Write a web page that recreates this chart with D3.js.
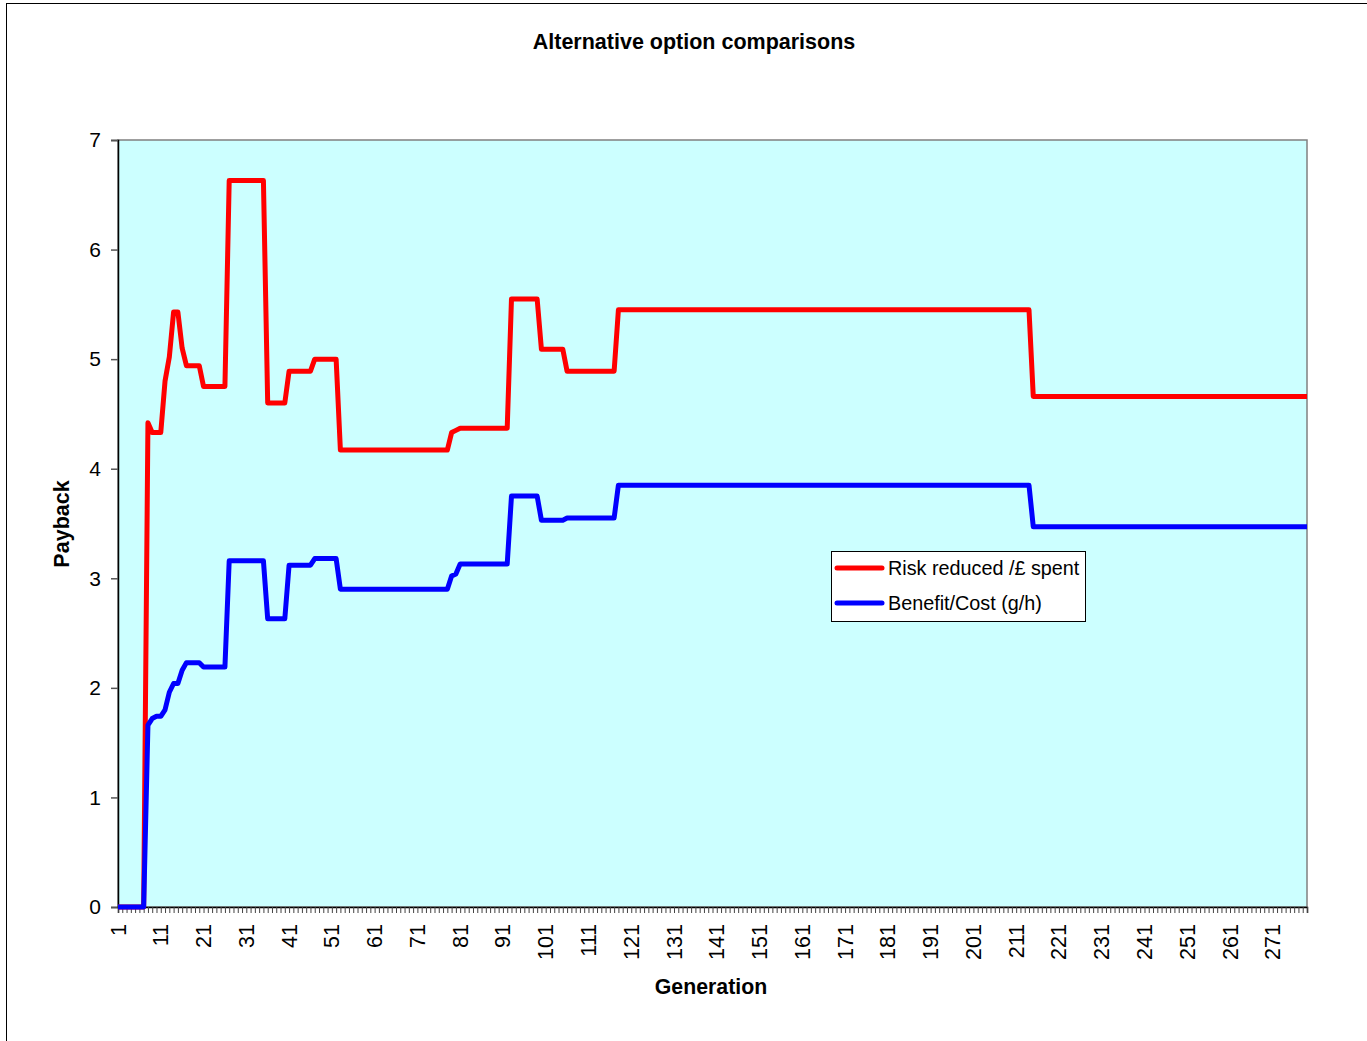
<!DOCTYPE html>
<html>
<head>
<meta charset="utf-8">
<script src="https://cdn.jsdelivr.net/npm/d3@7/dist/d3.min.js"></script>
<style>
  html, body { margin: 0; padding: 0; background: #ffffff; }
  svg { display: block; }
  text { font-family: "Liberation Sans", Arial, sans-serif; fill: #000; }
</style>
</head>
<body>
<svg id="chart" width="1367" height="1041"></svg>
<script>
// ---- data ----
const title = "Alternative option comparisons";
const xTitle = "Generation";
const yTitle = "Payback";
const generations = d3.range(1, 280); // categories 1..279
const xTickLabels = [1, 11, 21, 31, 41, 51, 61, 71, 81, 91, 101, 111, 121, 131, 141, 151, 161, 171, 181, 191, 201, 211, 221, 231, 241, 251, 261, 271];
const yTicks = [0, 1, 2, 3, 4, 5, 6, 7];
const seriesNames = ["Risk reduced /£ spent", "Benefit/Cost (g/h)"];

const riskReduced = [
  0, 0, 0, 0, 0, 0, 0, 4.42, 4.33, 4.33,
  4.33, 4.8, 5.02, 5.43, 5.43, 5.1, 4.94, 4.94, 4.94, 4.94,
  4.75, 4.75, 4.75, 4.75, 4.75, 4.75, 6.63, 6.63, 6.63, 6.63,
  6.63, 6.63, 6.63, 6.63, 6.63, 4.6, 4.6, 4.6, 4.6, 4.6,
  4.89, 4.89, 4.89, 4.89, 4.89, 4.89, 5.0, 5.0, 5.0, 5.0,
  5.0, 5.0, 4.17, 4.17, 4.17, 4.17, 4.17, 4.17, 4.17, 4.17,
  4.17, 4.17, 4.17, 4.17, 4.17, 4.17, 4.17, 4.17, 4.17, 4.17,
  4.17, 4.17, 4.17, 4.17, 4.17, 4.17, 4.17, 4.17, 4.33, 4.35,
  4.37, 4.37, 4.37, 4.37, 4.37, 4.37, 4.37, 4.37, 4.37, 4.37,
  4.37, 4.37, 5.55, 5.55, 5.55, 5.55, 5.55, 5.55, 5.55, 5.09,
  5.09, 5.09, 5.09, 5.09, 5.09, 4.89, 4.89, 4.89, 4.89, 4.89,
  4.89, 4.89, 4.89, 4.89, 4.89, 4.89, 4.89, 5.45, 5.45, 5.45,
  5.45, 5.45, 5.45, 5.45, 5.45, 5.45, 5.45, 5.45, 5.45, 5.45,
  5.45, 5.45, 5.45, 5.45, 5.45, 5.45, 5.45, 5.45, 5.45, 5.45,
  5.45, 5.45, 5.45, 5.45, 5.45, 5.45, 5.45, 5.45, 5.45, 5.45,
  5.45, 5.45, 5.45, 5.45, 5.45, 5.45, 5.45, 5.45, 5.45, 5.45,
  5.45, 5.45, 5.45, 5.45, 5.45, 5.45, 5.45, 5.45, 5.45, 5.45,
  5.45, 5.45, 5.45, 5.45, 5.45, 5.45, 5.45, 5.45, 5.45, 5.45,
  5.45, 5.45, 5.45, 5.45, 5.45, 5.45, 5.45, 5.45, 5.45, 5.45,
  5.45, 5.45, 5.45, 5.45, 5.45, 5.45, 5.45, 5.45, 5.45, 5.45,
  5.45, 5.45, 5.45, 5.45, 5.45, 5.45, 5.45, 5.45, 5.45, 5.45,
  5.45, 5.45, 5.45, 5.45, 4.66, 4.66, 4.66, 4.66, 4.66, 4.66,
  4.66, 4.66, 4.66, 4.66, 4.66, 4.66, 4.66, 4.66, 4.66, 4.66,
  4.66, 4.66, 4.66, 4.66, 4.66, 4.66, 4.66, 4.66, 4.66, 4.66,
  4.66, 4.66, 4.66, 4.66, 4.66, 4.66, 4.66, 4.66, 4.66, 4.66,
  4.66, 4.66, 4.66, 4.66, 4.66, 4.66, 4.66, 4.66, 4.66, 4.66,
  4.66, 4.66, 4.66, 4.66, 4.66, 4.66, 4.66, 4.66, 4.66, 4.66,
  4.66, 4.66, 4.66, 4.66, 4.66, 4.66, 4.66, 4.66, 4.66
];

const benefitCost = [
  0, 0, 0, 0, 0, 0, 0, 1.66, 1.72, 1.74,
  1.74, 1.8, 1.96, 2.04, 2.04, 2.16, 2.23, 2.23, 2.23, 2.23,
  2.19, 2.19, 2.19, 2.19, 2.19, 2.19, 3.16, 3.16, 3.16, 3.16,
  3.16, 3.16, 3.16, 3.16, 3.16, 2.63, 2.63, 2.63, 2.63, 2.63,
  3.12, 3.12, 3.12, 3.12, 3.12, 3.12, 3.18, 3.18, 3.18, 3.18,
  3.18, 3.18, 2.9, 2.9, 2.9, 2.9, 2.9, 2.9, 2.9, 2.9,
  2.9, 2.9, 2.9, 2.9, 2.9, 2.9, 2.9, 2.9, 2.9, 2.9,
  2.9, 2.9, 2.9, 2.9, 2.9, 2.9, 2.9, 2.9, 3.02, 3.04,
  3.13, 3.13, 3.13, 3.13, 3.13, 3.13, 3.13, 3.13, 3.13, 3.13,
  3.13, 3.13, 3.75, 3.75, 3.75, 3.75, 3.75, 3.75, 3.75, 3.53,
  3.53, 3.53, 3.53, 3.53, 3.53, 3.55, 3.55, 3.55, 3.55, 3.55,
  3.55, 3.55, 3.55, 3.55, 3.55, 3.55, 3.55, 3.85, 3.85, 3.85,
  3.85, 3.85, 3.85, 3.85, 3.85, 3.85, 3.85, 3.85, 3.85, 3.85,
  3.85, 3.85, 3.85, 3.85, 3.85, 3.85, 3.85, 3.85, 3.85, 3.85,
  3.85, 3.85, 3.85, 3.85, 3.85, 3.85, 3.85, 3.85, 3.85, 3.85,
  3.85, 3.85, 3.85, 3.85, 3.85, 3.85, 3.85, 3.85, 3.85, 3.85,
  3.85, 3.85, 3.85, 3.85, 3.85, 3.85, 3.85, 3.85, 3.85, 3.85,
  3.85, 3.85, 3.85, 3.85, 3.85, 3.85, 3.85, 3.85, 3.85, 3.85,
  3.85, 3.85, 3.85, 3.85, 3.85, 3.85, 3.85, 3.85, 3.85, 3.85,
  3.85, 3.85, 3.85, 3.85, 3.85, 3.85, 3.85, 3.85, 3.85, 3.85,
  3.85, 3.85, 3.85, 3.85, 3.85, 3.85, 3.85, 3.85, 3.85, 3.85,
  3.85, 3.85, 3.85, 3.85, 3.47, 3.47, 3.47, 3.47, 3.47, 3.47,
  3.47, 3.47, 3.47, 3.47, 3.47, 3.47, 3.47, 3.47, 3.47, 3.47,
  3.47, 3.47, 3.47, 3.47, 3.47, 3.47, 3.47, 3.47, 3.47, 3.47,
  3.47, 3.47, 3.47, 3.47, 3.47, 3.47, 3.47, 3.47, 3.47, 3.47,
  3.47, 3.47, 3.47, 3.47, 3.47, 3.47, 3.47, 3.47, 3.47, 3.47,
  3.47, 3.47, 3.47, 3.47, 3.47, 3.47, 3.47, 3.47, 3.47, 3.47,
  3.47, 3.47, 3.47, 3.47, 3.47, 3.47, 3.47, 3.47, 3.47
];

const seriesColors = ["#ff0000", "#0000ff"];

// ---- layout ----
const svg = d3.select("#chart");
const plot = { left: 118, right: 1307, top: 140, bottom: 907 };

// outer chart border (partially cropped like the reference)
svg.append("rect")
  .attr("x", 6.5).attr("y", 3.5)
  .attr("width", 1400).attr("height", 1100)
  .attr("fill", "#ffffff").attr("stroke", "#000000").attr("stroke-width", 1);

const x = d3.scalePoint().domain(generations).range([plot.left, plot.right]);
const y = d3.scaleLinear().domain([0, 7]).range([plot.bottom, plot.top]);

// plot area
svg.append("rect")
  .attr("x", plot.left).attr("y", plot.top)
  .attr("width", plot.right - plot.left).attr("height", plot.bottom - plot.top)
  .attr("fill", "#ccffff").attr("stroke", "#808080").attr("stroke-width", 1.5);

// title
svg.append("text")
  .attr("x", 694).attr("y", 49)
  .attr("text-anchor", "middle")
  .attr("font-size", 21.5).attr("font-weight", "bold")
  .text(title);

// y axis
const yAxis = d3.axisLeft(y).tickValues(yTicks).tickSize(7).tickPadding(10).tickFormat(d3.format("d"));
const gy = svg.append("g").attr("transform", `translate(${plot.left},0)`).call(yAxis);
gy.select(".domain").attr("stroke", "#000").attr("stroke-width", 1.5);
gy.selectAll(".tick line").attr("stroke", "#555").attr("stroke-width", 1.5);
gy.selectAll(".tick text").attr("font-size", 21).attr("font-family", "Liberation Sans, Arial, sans-serif").attr("fill", "#000");

// x axis (tick at each category, labels every 10)
const xAxis = d3.axisBottom(x).tickValues(generations).tickSize(6).tickFormat("");
const gx = svg.append("g").attr("transform", `translate(0,${plot.bottom})`).call(xAxis);
gx.select(".domain").attr("stroke", "#000").attr("stroke-width", 1.5);
gx.selectAll(".tick line").attr("stroke", "#444").attr("stroke-width", 1);

svg.append("g").selectAll("text")
  .data(xTickLabels)
  .join("text")
  .attr("transform", d => `translate(${x(d)},${plot.bottom + 17}) rotate(-90)`)
  .attr("text-anchor", "end")
  .attr("dy", "0.35em")
  .attr("font-size", 21.5)
  .text(d => d);

// axis titles
svg.append("text")
  .attr("x", 711).attr("y", 994)
  .attr("text-anchor", "middle")
  .attr("font-size", 21.3).attr("font-weight", "bold")
  .text(xTitle);

svg.append("text")
  .attr("transform", `translate(69,524) rotate(-90)`)
  .attr("text-anchor", "middle")
  .attr("font-size", 21.5).attr("font-weight", "bold")
  .text(yTitle);

// lines
const line = d3.line().x((d, i) => x(generations[i])).y(d => y(d));
[riskReduced, benefitCost].forEach((vals, k) => {
  svg.append("path")
    .datum(vals)
    .attr("d", line)
    .attr("fill", "none")
    .attr("stroke", seriesColors[k])
    .attr("stroke-width", 5)
    .attr("stroke-linejoin", "round")
    .attr("stroke-linecap", "butt");
});

// legend
const lg = svg.append("g").attr("transform", "translate(831,551)");
lg.append("rect").attr("x", 0.5).attr("y", 0.5).attr("width", 254).attr("height", 70)
  .attr("fill", "#ffffff").attr("stroke", "#000").attr("stroke-width", 1);
seriesNames.forEach((name, k) => {
  const cy = 17 + k * 35;
  lg.append("line").attr("x1", 6).attr("x2", 51).attr("y1", cy).attr("y2", cy)
    .attr("stroke", seriesColors[k]).attr("stroke-width", 5).attr("stroke-linecap", "round");
  lg.append("text").attr("x", 57).attr("y", cy).attr("dy", "0.35em")
    .attr("font-size", 19.8).text(name);
});
</script>
</body>
</html>
